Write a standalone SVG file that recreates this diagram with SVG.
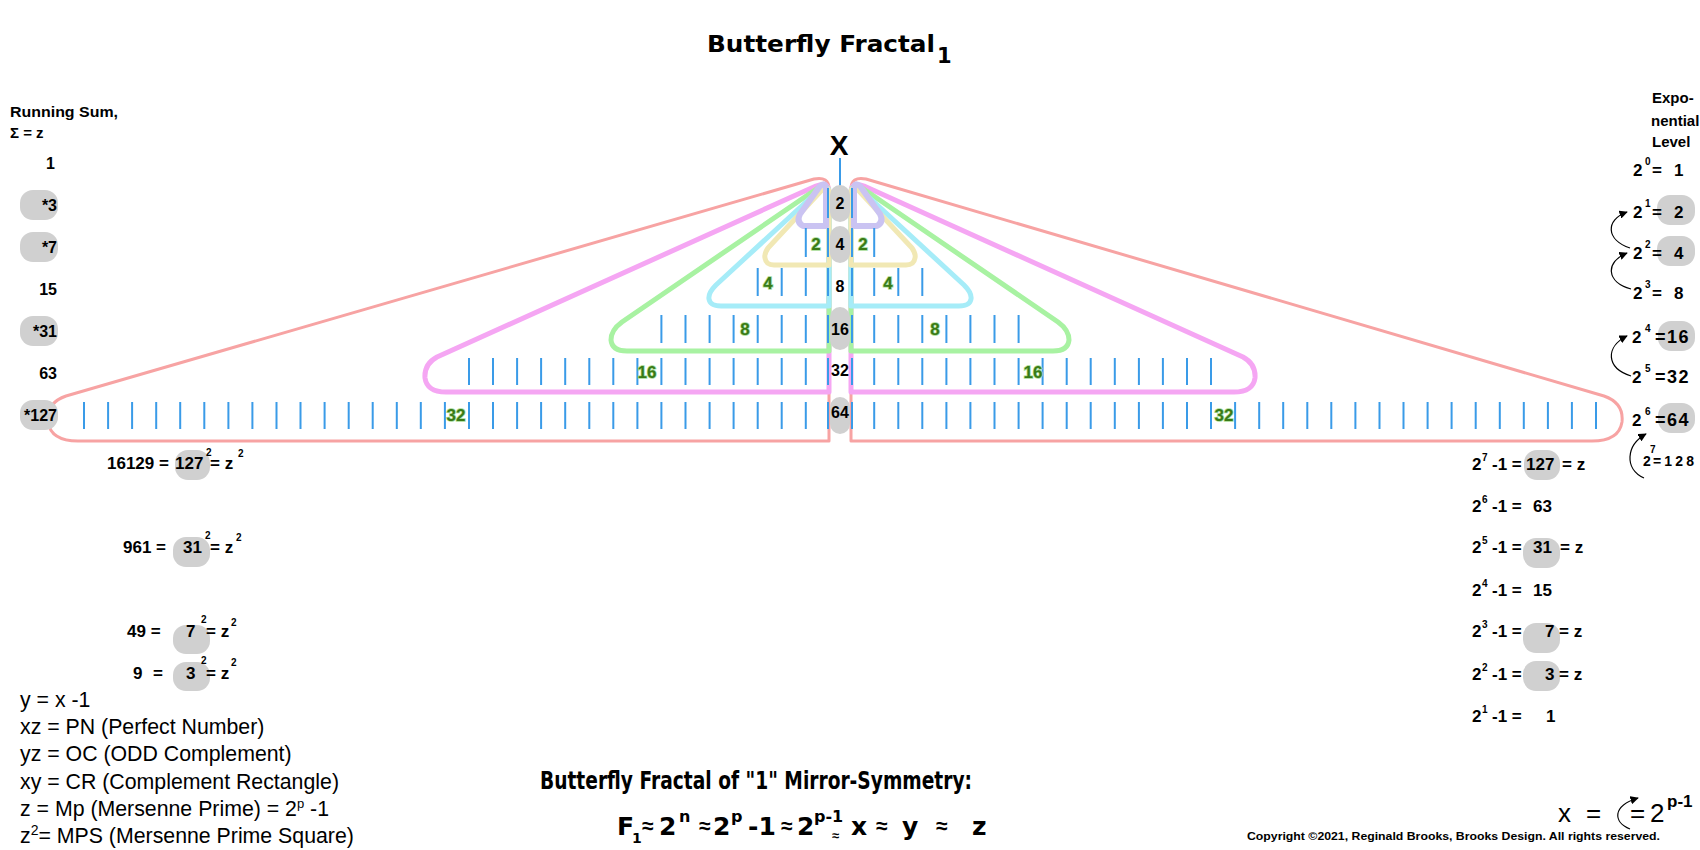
<svg xmlns="http://www.w3.org/2000/svg" xmlns:xlink="http://www.w3.org/1999/xlink" width="1700" height="850" viewBox="0 0 1700 850">
<style>
.sb{font-family:"Liberation Sans",Arial,sans-serif;font-weight:bold;fill:#000}
.hv{font-family:"DejaVu Sans","Liberation Sans",sans-serif;font-weight:bold;fill:#000}
.rg{font-family:"Liberation Sans",Arial,sans-serif;fill:#000}
.pill{fill:#d0d0d0}
.tick{stroke:#3a9be8;stroke-width:2;fill:none}
.sh{fill:none;stroke-linejoin:round;stroke-linecap:round}
.g{font-family:"Liberation Sans",Arial,sans-serif;font-weight:bold;font-size:17px;fill:#3a7a16;stroke:#a8dc98;stroke-width:1.5;paint-order:stroke;text-anchor:middle}
.c{text-anchor:middle}
.e{text-anchor:end}
.arr{fill:none;stroke:#000;stroke-width:1.2;marker-end:url(#ah)}
</style>
<defs>
<marker id="ah" viewBox="0 0 10 10" refX="9" refY="5" markerWidth="7" markerHeight="7" orient="auto"><path d="M0,0 L10,5 L0,10 z" fill="#000"/></marker>
</defs>
<rect width="1700" height="850" fill="#fff"/>

<g id="title">
<text class="hv" x="707" y="52" font-size="23" textLength="228" lengthAdjust="spacingAndGlyphs">Butterfly Fractal</text>
<text class="hv" x="937" y="63" font-size="21">1</text>
</g>

<g id="wing-shapes">
<path class="sh" stroke="#f7a3a3" stroke-width="3" d="M829,441 V189 Q829,176 814,179 L66,396 Q46,403 48,422 Q51,441 78,441 Z"/>
<path class="sh" stroke="#f5a6f3" stroke-width="5" d="M829,392 V192 Q829,181 816,186 L437,357 Q424,364 425,378 Q427,392 446,392 Z"/>
<path class="sh" stroke="#a8f2a2" stroke-width="5" d="M829,351 V193 Q829,183 818,188 L622,322 Q611,330 611,340 Q612,351 627,351 Z"/>
<path class="sh" stroke="#a6ecf8" stroke-width="5" d="M829,306 V193 Q829,184 819,190 L716,285 Q708,293 709,299 Q710,306 721,306 Z"/>
<path class="sh" stroke="#f1e8b4" stroke-width="5" d="M829,265 V193 Q829,185 821,191 L768,248 Q764,254 765,258 Q766,265 774,265 Z"/>
<path class="sh" stroke="#cac3f2" stroke-width="6" d="M826,226 V190 Q826,181 820,186 L800,214 Q796,222 803,226 Z"/>
<path class="sh" stroke="#f7a3a3" stroke-width="3" d="M851,441 V189 Q851,176 866,179 L1604,396 Q1624,403 1622,422 Q1619,441 1592,441 Z"/>
<path class="sh" stroke="#f5a6f3" stroke-width="5" d="M851,392 V192 Q851,181 864,186 L1243,357 Q1256,364 1255,378 Q1253,392 1234,392 Z"/>
<path class="sh" stroke="#a8f2a2" stroke-width="5" d="M851,351 V193 Q851,183 862,188 L1058,322 Q1069,330 1069,340 Q1068,351 1053,351 Z"/>
<path class="sh" stroke="#a6ecf8" stroke-width="5" d="M851,306 V193 Q851,184 861,190 L964,285 Q972,293 971,299 Q970,306 959,306 Z"/>
<path class="sh" stroke="#f1e8b4" stroke-width="5" d="M851,265 V193 Q851,185 859,191 L912,248 Q916,254 915,258 Q914,265 906,265 Z"/>
<path class="sh" stroke="#cac3f2" stroke-width="6" d="M854,226 V190 Q854,181 860,186 L880,214 Q884,222 877,226 Z"/>
</g>

<g id="ticks">
<path id="ticksL" class="tick" d="M84 402v27M108.1 402v27M132.1 402v27M156.2 402v27M180.2 402v27M204.3 402v27M228.4 402v27M252.4 402v27M276.5 402v27M300.5 402v27M324.6 402v27M348.7 402v27M372.7 402v27M396.8 402v27M420.8 402v27M444.9 402v27M469 402v27M493 402v27M517.1 402v27M541.1 402v27M565.2 402v27M589.3 402v27M613.3 402v27M637.4 402v27M661.4 402v27M685.5 402v27M709.6 402v27M733.6 402v27M757.7 402v27M781.7 402v27M805.8 402v27M828 402v27
M469 358v27M493 358v27M517.1 358v27M541.1 358v27M565.2 358v27M589.3 358v27M613.3 358v27M637.4 358v27M661.4 358v27M685.5 358v27M709.6 358v27M733.6 358v27M757.7 358v27M781.7 358v27M805.8 358v27M828 358v27
M661.4 315v28M685.5 315v28M709.6 315v28M733.6 315v28M757.7 315v28M781.7 315v28M805.8 315v28M828 315v28
M757.7 268v28M781.7 268v28M805.8 268v28M828 268v28
M805.8 228v29M828 228v29
M828 188v30"/>
<use xlink:href="#ticksL" href="#ticksL" transform="matrix(-1 0 0 1 1680 0)"/>
</g>

<g id="wing-labels">
<text class="g" x="816" y="250">2</text>
<text class="g" x="768" y="289">4</text>
<text class="g" x="745" y="335">8</text>
<text class="g" x="647" y="378">16</text>
<text class="g" x="456" y="421">32</text>
<text class="g" x="863" y="250">2</text>
<text class="g" x="888" y="289">4</text>
<text class="g" x="935" y="335">8</text>
<text class="g" x="1033" y="378">16</text>
<text class="g" x="1224" y="421">32</text>
</g>

<g id="center-column">
<path d="M840,158 V186" stroke="#3a9be8" stroke-width="2"/>
<text class="sb c" x="839" y="155" font-size="28">X</text>
<rect class="pill" x="830" y="185" width="20" height="37" rx="10"/>
<rect class="pill" x="830" y="226" width="20" height="37" rx="10"/>
<rect class="pill" x="830" y="307" width="20" height="43" rx="10"/>
<rect class="pill" x="830" y="397" width="20" height="37" rx="10"/>
<text class="sb c" x="840" y="209" font-size="16">2</text>
<text class="sb c" x="840" y="250" font-size="16">4</text>
<text class="sb c" x="840" y="292" font-size="16">8</text>
<text class="sb c" x="840" y="335" font-size="16">16</text>
<text class="sb c" x="840" y="376" font-size="16">32</text>
<text class="sb c" x="840" y="418" font-size="16">64</text>
</g>

<g id="running-sum">
<text class="sb" x="10" y="117" font-size="15" textLength="108" lengthAdjust="spacingAndGlyphs">Running Sum,</text>
<text class="sb" x="10" y="138" font-size="15">Σ = z</text>
<rect class="pill" x="20" y="190" width="38" height="30" rx="13"/>
<rect class="pill" x="20" y="232" width="38" height="30" rx="13"/>
<rect class="pill" x="20" y="316" width="38" height="30" rx="13"/>
<rect class="pill" x="20" y="400" width="38" height="30" rx="13"/>
<text class="sb e" x="55" y="169" font-size="16">1</text>
<text class="sb e" x="57" y="211" font-size="16">*3</text>
<text class="sb e" x="57" y="253" font-size="16">*7</text>
<text class="sb e" x="57" y="295" font-size="16">15</text>
<text class="sb e" x="57" y="337" font-size="16">*31</text>
<text class="sb e" x="57" y="379" font-size="16">63</text>
<text class="sb e" x="57" y="421" font-size="16">*127</text>
</g>

<g id="exponential-level">
<text class="sb" x="1652" y="103" font-size="15">Expo-</text>
<text class="sb" x="1651" y="126" font-size="15">nential</text>
<text class="sb" x="1652" y="147" font-size="15">Level</text>
<rect class="pill" x="1657" y="195" width="38" height="30" rx="13"/>
<rect class="pill" x="1657" y="236" width="38" height="30" rx="13"/>
<rect class="pill" x="1658" y="321" width="37" height="30" rx="13"/>
<rect class="pill" x="1658" y="403" width="37" height="30" rx="13"/>
<text class="sb" x="1633" y="176" font-size="17">2</text><text class="sb" x="1645" y="165" font-size="10">0</text><text class="sb" x="1652" y="176" font-size="17">=</text><text class="sb" x="1674" y="176" font-size="17">1</text>
<text class="sb" x="1633" y="218" font-size="17">2</text><text class="sb" x="1645" y="207" font-size="10">1</text><text class="sb" x="1652" y="218" font-size="17">=</text><text class="sb" x="1674" y="218" font-size="17">2</text>
<text class="sb" x="1633" y="259" font-size="17">2</text><text class="sb" x="1645" y="248" font-size="10">2</text><text class="sb" x="1652" y="259" font-size="17">=</text><text class="sb" x="1674" y="259" font-size="17">4</text>
<text class="sb" x="1633" y="299" font-size="17">2</text><text class="sb" x="1645" y="288" font-size="10">3</text><text class="sb" x="1652" y="299" font-size="17">=</text><text class="sb" x="1674" y="299" font-size="17">8</text>
<text class="sb" x="1632" y="343" font-size="17">2</text><text class="sb" x="1645" y="332" font-size="10">4</text><text class="sb" x="1655" y="343" font-size="18" letter-spacing="1.5">=16</text>
<text class="sb" x="1632" y="383" font-size="17">2</text><text class="sb" x="1645" y="372" font-size="10">5</text><text class="sb" x="1655" y="383" font-size="18" letter-spacing="1.5">=32</text>
<text class="sb" x="1632" y="426" font-size="17">2</text><text class="sb" x="1645" y="415" font-size="10">6</text><text class="sb" x="1655" y="426" font-size="18" letter-spacing="1.5">=64</text>
<text class="sb" x="1643" y="466" font-size="14">2</text><text class="sb" x="1650" y="453" font-size="10">7</text><text class="sb" x="1653" y="466" font-size="14" textLength="41" lengthAdjust="spacing">=128</text>
</g>

<g id="connectors">
<path class="arr" d="M1631,289 C1606,282 1605,262 1627,253"/>
<path class="arr" d="M1630,248 C1606,240 1605,220 1627,212"/>
<path class="arr" d="M1631,376 C1606,368 1605,347 1627,336"/>
<path class="arr" d="M1644,478 C1624,469 1626,445 1646,434"/>
<path class="arr" d="M1630,829 C1613,822 1612,806 1638,798"/>
</g>

<g id="squares">
<rect class="pill" x="175" y="450" width="35" height="30" rx="13"/>
<rect class="pill" x="173" y="537" width="37" height="30" rx="13"/>
<rect class="pill" x="173" y="625" width="37" height="29" rx="13"/>
<rect class="pill" x="173" y="662" width="37" height="29" rx="13"/>
<text class="sb" x="107" y="469" font-size="17">16129 =</text><text class="sb" x="175" y="469" font-size="17">127</text><text class="sb" x="206" y="456" font-size="10">2</text><text class="sb" x="210" y="469" font-size="17">= z</text><text class="sb" x="238" y="457" font-size="10">2</text>
<text class="sb" x="123" y="553" font-size="17">961 =</text><text class="sb" x="183" y="553" font-size="17">31</text><text class="sb" x="205" y="539" font-size="10">2</text><text class="sb" x="210" y="553" font-size="17">= z</text><text class="sb" x="236" y="541" font-size="10">2</text>
<text class="sb" x="127" y="637" font-size="17">49 =</text><text class="sb" x="186" y="637" font-size="17">7</text><text class="sb" x="201" y="623" font-size="10">2</text><text class="sb" x="206" y="637" font-size="17">= z</text><text class="sb" x="231" y="626" font-size="10">2</text>
<text class="sb" x="133" y="679" font-size="17">9</text><text class="sb" x="153" y="679" font-size="17">=</text><text class="sb" x="186" y="679" font-size="17">3</text><text class="sb" x="201" y="664" font-size="10">2</text><text class="sb" x="206" y="679" font-size="17">= z</text><text class="sb" x="231" y="666" font-size="10">2</text>
</g>

<g id="mersenne">
<rect class="pill" x="1524" y="450" width="36" height="30" rx="13"/>
<rect class="pill" x="1523" y="538" width="37" height="30" rx="13"/>
<rect class="pill" x="1523" y="623" width="37" height="30" rx="13"/>
<rect class="pill" x="1523" y="661" width="37" height="30" rx="13"/>
<text class="sb" x="1472" y="470" font-size="17">2</text><text class="sb" x="1482" y="461" font-size="10">7</text><text class="sb" x="1492" y="470" font-size="17">-1 =</text><text class="sb" x="1526" y="470" font-size="17">127</text><text class="sb" x="1562" y="470" font-size="17">= z</text>
<text class="sb" x="1472" y="512" font-size="17">2</text><text class="sb" x="1482" y="503" font-size="10">6</text><text class="sb" x="1492" y="512" font-size="17">-1 =</text><text class="sb" x="1533" y="512" font-size="17">63</text>
<text class="sb" x="1472" y="553" font-size="17">2</text><text class="sb" x="1482" y="544" font-size="10">5</text><text class="sb" x="1492" y="553" font-size="17">-1 =</text><text class="sb" x="1533" y="553" font-size="17">31</text><text class="sb" x="1560" y="553" font-size="17">= z</text>
<text class="sb" x="1472" y="596" font-size="17">2</text><text class="sb" x="1482" y="587" font-size="10">4</text><text class="sb" x="1492" y="596" font-size="17">-1 =</text><text class="sb" x="1533" y="596" font-size="17">15</text>
<text class="sb" x="1472" y="637" font-size="17">2</text><text class="sb" x="1482" y="628" font-size="10">3</text><text class="sb" x="1492" y="637" font-size="17">-1 =</text><text class="sb" x="1545" y="637" font-size="17">7</text><text class="sb" x="1559" y="637" font-size="17">= z</text>
<text class="sb" x="1472" y="680" font-size="17">2</text><text class="sb" x="1482" y="671" font-size="10">2</text><text class="sb" x="1492" y="680" font-size="17">-1 =</text><text class="sb" x="1545" y="680" font-size="17">3</text><text class="sb" x="1559" y="680" font-size="17">= z</text>
<text class="sb" x="1472" y="722" font-size="17">2</text><text class="sb" x="1482" y="713" font-size="10">1</text><text class="sb" x="1492" y="722" font-size="17">-1 =</text><text class="sb" x="1546" y="722" font-size="17">1</text>
</g>

<g id="legend">
<text class="rg" x="20" y="707" font-size="21.3">y = x -1</text>
<text class="rg" x="20" y="734" font-size="21.3">xz = PN (Perfect Number)</text>
<text class="rg" x="20" y="761" font-size="21.3">yz = OC (ODD Complement)</text>
<text class="rg" x="20" y="789" font-size="21.3">xy = CR (Complement Rectangle)</text>
<text class="rg" x="20" y="816" font-size="21.3">z = Mp (Mersenne Prime) = 2<tspan font-size="13" dy="-8">p</tspan><tspan dy="8"> -1</tspan></text>
<text class="rg" x="20" y="843" font-size="21.3">z<tspan font-size="14" dy="-8">2</tspan><tspan dy="8">= MPS (Mersenne Prime Square)</tspan></text>
</g>

<g id="formula">
<text class="hv" x="540" y="789" font-size="25" textLength="432" lengthAdjust="spacingAndGlyphs">Butterfly Fractal of "1" Mirror-Symmetry:</text>
<text class="hv" x="617" y="835" font-size="25">F</text>
<text class="hv" x="632" y="843" font-size="14">1</text>
<text class="sb" x="642" y="833" font-size="21">≈</text>
<text class="hv" x="659" y="835" font-size="25">2</text>
<text class="hv" x="679" y="822" font-size="16">n</text>
<text class="sb" x="699" y="833" font-size="21">≈</text>
<text class="hv" x="713" y="835" font-size="25">2</text>
<text class="hv" x="731" y="822" font-size="16">p</text>
<text class="hv" x="748" y="835" font-size="25">-1</text>
<text class="sb" x="781" y="833" font-size="21">≈</text>
<text class="hv" x="797" y="835" font-size="25">2</text>
<text class="hv" x="814" y="822" font-size="16">p-1</text>
<text class="sb" x="832" y="840" font-size="13">≈</text>
<text class="hv" x="851" y="835" font-size="25">x</text>
<text class="sb" x="876" y="833" font-size="21">≈</text>
<text class="hv" x="902" y="835" font-size="25">y</text>
<text class="sb" x="936" y="833" font-size="21">≈</text>
<text class="hv" x="972" y="835" font-size="25">z</text>
</g>

<g id="x-equation">
<text class="rg" x="1558" y="822" font-size="26">x</text>
<text class="rg" x="1586" y="822" font-size="26">=</text>
<text class="rg" x="1630" y="822" font-size="26">=</text>
<text class="rg" x="1650" y="822" font-size="26">2</text>
<text class="sb" x="1667" y="807" font-size="17">p-1</text>
</g>

<text class="sb" x="1247" y="840" font-size="11" textLength="413" lengthAdjust="spacingAndGlyphs">Copyright ©2021, Reginald Brooks, Brooks Design. All rights reserved.</text>
</svg>
